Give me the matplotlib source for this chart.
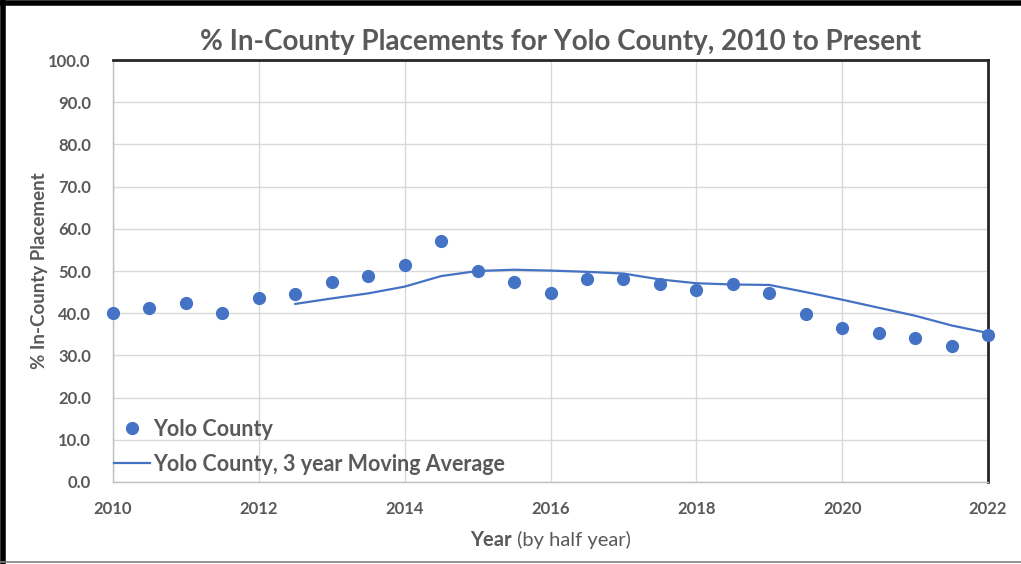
import matplotlib
matplotlib.use("Agg")
import matplotlib.pyplot as plt
from matplotlib.lines import Line2D

plt.rcParams['font.family'] = ['Lato', 'DejaVu Sans']

years = [2010.0, 2010.5, 2011.0, 2011.5, 2012.0, 2012.5, 2013.0, 2013.5, 2014.0, 2014.5,
         2015.0, 2015.5, 2016.0, 2016.5, 2017.0, 2017.5, 2018.0, 2018.5, 2019.0, 2019.5,
         2020.0, 2020.5, 2021.0, 2021.5, 2022.0]
pct_in_county = [40.0, 41.3, 42.5, 40.1, 43.5, 44.5, 47.3, 48.9, 51.5, 57.0,
                 50.1, 47.3, 44.9, 48.0, 48.2, 47.0, 45.4, 47.0, 44.9, 39.9,
                 36.6, 35.4, 34.2, 32.3, 34.9]

ma_years = [2012.5, 2013.0, 2013.5, 2014.0, 2014.5, 2015.0, 2015.5, 2016.0, 2016.5, 2017.0,
            2017.5, 2018.0, 2018.5, 2019.0, 2019.5, 2020.0, 2020.5, 2021.0, 2021.5, 2022.0]
moving_avg = [42.2, 43.5, 44.7, 46.3, 48.8, 50.0, 50.3, 50.1, 49.8, 49.4,
              48.0, 47.1, 46.8, 46.7, 45.0, 43.2, 41.3, 39.4, 37.1, 35.3]

x_ticks = [2010, 2012, 2014, 2016, 2018, 2020, 2022]
y_ticks = [0, 10, 20, 30, 40, 50, 60, 70, 80, 90, 100]

blue = '#4472C4'
text_gray = '#595959'

fig = plt.figure(figsize=(10.21, 5.64), dpi=100)
ax = fig.add_axes([0.1107, 0.1454, 0.8570, 0.7482])

ax.plot(years, pct_in_county, 'o', color=blue, markersize=8.5, zorder=3,
        label='Yolo County', clip_on=False)
ax.plot(ma_years, moving_avg, '-', color=blue, linewidth=1.6, zorder=2,
        label='Yolo County, 3 year Moving Average')

ax.set_xlim(2010, 2022)
ax.set_ylim(0, 100)
ax.set_xticks(x_ticks)
ax.set_yticks(y_ticks)
ax.set_yticklabels([f'{v:.1f}' for v in y_ticks])
ax.grid(True, color='#d9d9d9', linewidth=1.0)
ax.set_axisbelow(True)
ax.tick_params(length=0, labelsize=12, labelcolor=text_gray)
ax.tick_params(axis='y', pad=16)
ax.tick_params(axis='x', pad=14)
for lab in ax.get_xticklabels() + ax.get_yticklabels():
    lab.set_fontweight('bold')

for side in ('left', 'bottom'):
    ax.spines[side].set_color('#bfbfbf')
    ax.spines[side].set_linewidth(1.0)
for side in ('top', 'right'):
    ax.spines[side].set_color('#262626')
    ax.spines[side].set_linewidth(2.0)

ax.set_title('% In-County Placements for Yolo County, 2010 to Present',
             fontsize=20, fontweight='bold', color=text_gray, pad=7, x=0.512)
ax.set_ylabel('% In-County Placement', fontsize=13.5, fontweight='bold',
              color=text_gray, labelpad=0)

# x-axis label: bold "Year" followed by a regular-weight note
fig.canvas.draw()
renderer = fig.canvas.get_renderer()
t_bold = fig.text(0, 0.043, 'Year', fontsize=14.5, fontweight='bold',
                  color=text_gray, ha='left', va='center')
t_reg = fig.text(0, 0.043, ' (by half year)', fontsize=14.5,
                 color=text_gray, ha='left', va='center')
w_bold = t_bold.get_window_extent(renderer).width / fig.bbox.width
w_reg = t_reg.get_window_extent(renderer).width / fig.bbox.width
x_start = 0.539 - (w_bold + w_reg) / 2
t_bold.set_x(x_start)
t_reg.set_x(x_start + w_bold)

leg = ax.legend(loc='lower left', bbox_to_anchor=(-0.014, -0.014), frameon=False,
                fontsize=15.5, labelcolor=text_gray, handlelength=1.7,
                handletextpad=0.15, borderaxespad=0.2, labelspacing=0.65)
for txt in leg.get_texts():
    txt.set_fontweight('bold')

# outer frame of the figure
fig.add_artist(Line2D([0.003, 0.003], [0, 1], transform=fig.transFigure,
                      color='black', linewidth=4))
fig.add_artist(Line2D([0, 1], [0.995, 0.995], transform=fig.transFigure,
                      color='black', linewidth=4))
fig.add_artist(Line2D([0, 1], [0.004, 0.004], transform=fig.transFigure,
                      color='#7f7f7f', linewidth=1.2))

fig.savefig('out.png', dpi=100)
